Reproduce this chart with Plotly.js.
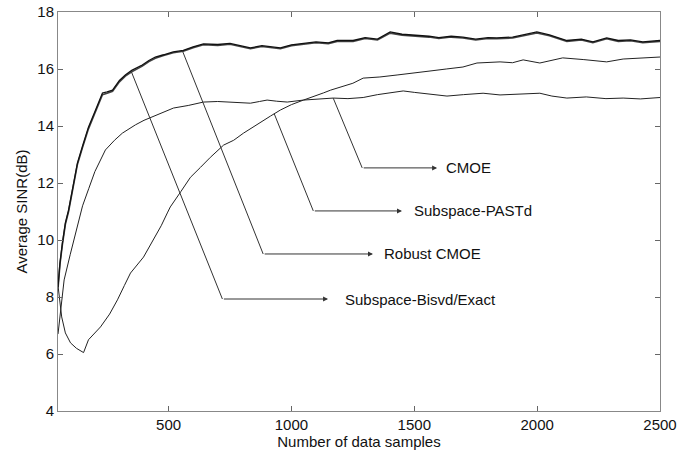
<!DOCTYPE html>
<html>
<head>
<meta charset="utf-8">
<script src="https://cdn.plot.ly/plotly-3.0.1.min.js"></script>
<style>html,body{margin:0;padding:0;background:#fff;}#chart{width:695px;height:453px;}</style>
</head>
<body>
<div id="chart"></div>
<script>
// ---- data ----
var topX   = [50, 58, 68, 80, 93, 101, 115, 129, 150, 174, 200, 231, 250, 272, 300, 324, 350, 393, 420, 446, 480, 519, 560, 600, 642, 700, 750, 780, 833, 880, 955, 1000, 1049, 1100, 1150, 1186, 1251, 1300, 1350, 1402, 1450, 1512, 1560, 1600, 1650, 1698, 1750, 1800, 1836, 1900, 1950, 1999, 2050, 2121, 2180, 2227, 2283, 2330, 2380, 2430, 2500];
var robustCMOE = [8.35, 9.2, 9.9, 10.6, 11.05, 11.4, 12.1, 12.7, 13.3, 13.96, 14.5, 15.16, 15.2, 15.26, 15.6, 15.79, 15.95, 16.14, 16.3, 16.42, 16.5, 16.6, 16.65, 16.78, 16.88, 16.86, 16.9, 16.84, 16.74, 16.82, 16.74, 16.85, 16.9, 16.95, 16.92, 17.0, 17.0, 17.1, 17.05, 17.3, 17.22, 17.19, 17.15, 17.1, 17.15, 17.12, 17.05, 17.1, 17.09, 17.12, 17.2, 17.3, 17.2, 17.0, 17.05, 16.95, 17.09, 17.0, 17.02, 16.95, 17.0];
var bisvdExact = [8.3, 9.15, 9.85, 10.55, 11.0, 11.35, 12.05, 12.65, 13.25, 13.9, 14.45, 15.1, 15.15, 15.22, 15.55, 15.75, 15.9, 16.1, 16.26, 16.38, 16.47, 16.57, 16.62, 16.75, 16.85, 16.83, 16.87, 16.81, 16.71, 16.79, 16.71, 16.82, 16.87, 16.92, 16.89, 16.97, 16.97, 17.07, 17.02, 17.26, 17.19, 17.16, 17.12, 17.07, 17.12, 17.09, 17.02, 17.07, 17.06, 17.09, 17.17, 17.26, 17.17, 16.97, 17.02, 16.92, 17.06, 16.97, 16.99, 16.92, 16.97];

var cmoeX = [50, 60, 75, 100, 125, 150, 175, 200, 243, 280, 312, 365, 400, 434, 480, 520, 580, 642, 700, 751, 800, 833, 870, 901, 940, 983, 1049, 1100, 1170, 1230, 1292, 1350, 1400, 1455, 1500, 1560, 1633, 1700, 1780, 1849, 1920, 2011, 2060, 2121, 2200, 2280, 2350, 2420, 2500];
var cmoe  = [6.7, 7.5, 8.6, 9.5, 10.4, 11.2, 11.8, 12.4, 13.16, 13.5, 13.75, 14.04, 14.2, 14.32, 14.5, 14.63, 14.72, 14.84, 14.86, 14.84, 14.82, 14.8, 14.86, 14.91, 14.87, 14.84, 14.91, 14.93, 14.98, 14.96, 15.0, 15.1, 15.15, 15.23, 15.18, 15.12, 15.05, 15.1, 15.15, 15.09, 15.12, 15.15, 15.05, 14.98, 15.02, 14.96, 14.98, 14.95, 15.0];

var pastdX = [50, 58, 65, 80, 101, 125, 154, 174, 200, 223, 260, 292, 320, 345, 398, 439, 470, 495, 507, 550, 589, 630, 670, 724, 765, 805, 840, 873, 915, 955, 1000, 1049, 1090, 1130, 1160, 1199, 1250, 1292, 1360, 1430, 1500, 1564, 1630, 1698, 1755, 1849, 1900, 1943, 2011, 2060, 2104, 2190, 2283, 2350, 2420, 2500];
var pastd  = [8.4, 7.9, 7.3, 6.74, 6.39, 6.2, 6.05, 6.5, 6.75, 6.95, 7.4, 7.9, 8.4, 8.84, 9.4, 10.0, 10.5, 10.95, 11.16, 11.7, 12.2, 12.55, 12.9, 13.33, 13.5, 13.75, 13.95, 14.14, 14.35, 14.56, 14.75, 14.91, 15.05, 15.16, 15.26, 15.37, 15.5, 15.68, 15.72, 15.79, 15.85, 15.93, 16.0, 16.07, 16.21, 16.25, 16.22, 16.32, 16.21, 16.3, 16.39, 16.33, 16.25, 16.35, 16.38, 16.42];

var xTicks = [500, 1000, 1500, 2000, 2500];
var yTicks = [4, 6, 8, 10, 12, 14, 16, 18];

// leaders: label, start x on curve, elbow (x,y), arrow end x, text x
var labelText  = ["CMOE", "Subspace-PASTd", "Robust CMOE", "Subspace-Bisvd/Exact"];
var labelStart = [1170, 930, 556, 349];
var labelElbowX = [1288, 1089, 885, 719];
var labelElbowY = [12.53, 11.02, 9.51, 7.93];
var labelArrowX = [1593, 1450, 1332, 1149];
var labelTextX  = [1622, 1492, 1370, 1208];

// ---- drawing ----
function interp(xs, ys, x) {
  for (var i = 0; i < xs.length - 1; i++) {
    if (x >= xs[i] && x <= xs[i + 1]) {
      var t = (x - xs[i]) / (xs[i + 1] - xs[i]);
      return ys[i] + t * (ys[i + 1] - ys[i]);
    }
  }
  return ys[ys.length - 1];
}
var seriesFor = [[cmoeX, cmoe], [pastdX, pastd], [topX, robustCMOE], [topX, bisvdExact]];

var traces = [
  {x: cmoeX, y: cmoe, mode: 'lines', line: {color: '#222', width: 1}, name: 'CMOE'},
  {x: pastdX, y: pastd, mode: 'lines', line: {color: '#222', width: 1}, name: 'Subspace-PASTd'},
  {x: topX, y: bisvdExact, mode: 'lines', line: {color: '#444', width: 1.6}, name: 'Subspace-Bisvd/Exact'},
  {x: topX, y: robustCMOE, mode: 'lines', line: {color: '#111', width: 1.3}, name: 'Robust CMOE'}
];

var shapes = [];
var annotations = [];
var lblFont = {family: 'Liberation Sans, Arial, sans-serif', size: 15, color: '#111'};
for (var k = 0; k < labelText.length; k++) {
  var s = seriesFor[k];
  var sy = interp(s[0], s[1], labelStart[k]);
  shapes.push({type: 'line', xref: 'x', yref: 'y', x0: labelStart[k], y0: sy, x1: labelElbowX[k], y1: labelElbowY[k], line: {color: '#333', width: 1}});
  annotations.push({x: labelArrowX[k], y: labelElbowY[k], xref: 'x', yref: 'y', ax: labelElbowX[k], ay: labelElbowY[k], axref: 'x', ayref: 'y', showarrow: true, arrowhead: 2, arrowsize: 1, arrowwidth: 1, arrowcolor: '#333', text: ''});
  annotations.push({x: labelTextX[k], y: labelElbowY[k], xref: 'x', yref: 'y', text: labelText[k], showarrow: false, xanchor: 'left', yanchor: 'middle', font: lblFont});
}

var axFont = {family: 'Liberation Sans, Arial, sans-serif', size: 15, color: '#111'};
var layout = {
  width: 695, height: 453,
  margin: {l: 58, r: 35, t: 12, b: 42},
  paper_bgcolor: '#fff', plot_bgcolor: '#fff',
  showlegend: false,
  font: axFont,
  xaxis: {
    range: [50, 2500], tickvals: xTicks, ticktext: xTicks.map(String),
    ticks: 'inside', ticklen: 5, tickcolor: '#666', showline: true, linecolor: '#888', linewidth: 1,
    mirror: 'ticks', showgrid: false, zeroline: false, tickfont: axFont,
    title: {text: 'Number of data samples', font: axFont, standoff: 4}
  },
  yaxis: {
    range: [4, 18], tickvals: yTicks, ticktext: yTicks.map(String),
    ticks: 'inside', ticklen: 5, tickcolor: '#666', showline: true, linecolor: '#888', linewidth: 1,
    mirror: 'ticks', showgrid: false, zeroline: false, tickfont: axFont,
    title: {text: 'Average SINR(dB)', font: axFont, standoff: 6}
  },
  shapes: shapes,
  annotations: annotations
};
Plotly.newPlot('chart', traces, layout, {staticPlot: true, displayModeBar: false});
</script>
</body>
</html>
